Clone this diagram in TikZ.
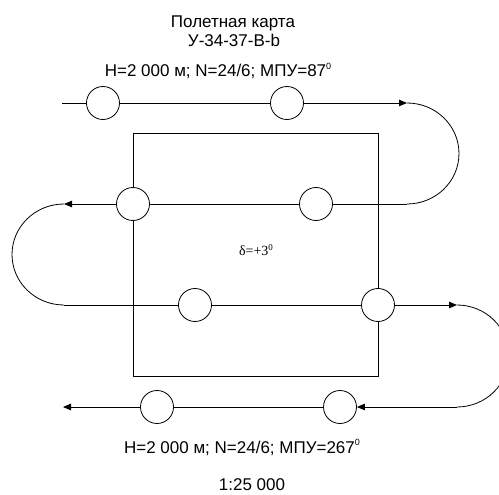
\documentclass[tikz,border=0pt]{standalone}
\usepackage{fontspec}
\setmainfont{Liberation Sans}
\newfontfamily\declfont{Liberation Serif}
\usetikzlibrary{arrows.meta}

\newcommand{\degsup}{\raisebox{0.42em}{\fontsize{9}{9}\selectfont 0}}

\tikzset{
  wpt/.style={circle, draw, line width=0.8pt, fill=white, minimum size=33pt, inner sep=0pt},
  leg/.style={line width=0.8pt},
  legarrow/.style={leg, -{Triangle[length=8pt,width=6.5pt]}},
  lbl/.style={anchor=base, inner sep=0pt, font=\fontsize{17}{20}\selectfont},
}

\begin{document}
\begin{tikzpicture}[x=1pt,y=-1pt]
    \useasboundingbox (0,0) rectangle (499,495);

    % Map sheet
    \draw[line width=0.8pt] (133,133) rectangle (378,376);
    \node[anchor=base, inner sep=0pt, font=\declfont\fontsize{14}{16}\selectfont] (decl) at (256,255) {δ=+3\raisebox{0.35em}{\fontsize{9}{9}\selectfont 0}};

    % Titles
    \node[lbl] (titleA) at (233,28) {Полетная карта};
    \node[lbl] (titleB) at (234,47) {У-34-37-В-b};
    \node[lbl] (paramTop) at (218,77) {H=2 000 м; N=24/6; МПУ=87\degsup};
    \node[lbl] (paramBot) at (242,453) {H=2 000 м; N=24/6; МПУ=267\degsup};
    \node[lbl] (scaleLbl) at (252,490) {1:25 000};

    % Waypoints
    \node[wpt] (c11) at (103,103) {};
    \node[wpt] (c12) at (287,103) {};
    \node[wpt] (c21) at (133,204) {};
    \node[wpt] (c22) at (316,204) {};
    \node[wpt] (c31) at (195,305) {};
    \node[wpt] (c32) at (378,305) {};
    \node[wpt] (c41) at (157,407) {};
    \node[wpt] (c42) at (340,407) {};

    \coordinate (s1) at (62,103);
    \coordinate (e1) at (407,103);
    \coordinate (e2) at (64,204);
    \coordinate (e3) at (457,305);
    \coordinate (e4) at (63,407);

    % First leg
    \draw[leg] (s1) -- (c11);
    \draw[leg] (c11) -- (c12);
    \draw[legarrow] (c12) -- (e1);
    \draw[leg] (e1) arc[start angle=-90, end angle=90, x radius=52, y radius=50.5] coordinate (a1);

    % Second leg
    \draw[leg] (a1) -- (c22);
    \draw[leg] (c22) -- (c21);
    \draw[legarrow] (c21) -- (e2);
    \draw[leg] (e2) arc[start angle=270, end angle=90, x radius=52, y radius=50.5] coordinate (a2);

    % Third leg
    \draw[leg] (a2) -- (c31);
    \draw[leg] (c31) -- (c32);
    \draw[legarrow] (c32) -- (e3);
    \draw[leg] (e3) arc[start angle=-90, end angle=90, x radius=52, y radius=51] coordinate (a3);

    % Fourth leg
    \draw[legarrow] (a3) -- (c42);
    \draw[leg] (c42) -- (c41);
    \draw[legarrow] (c41) -- (e4);
\end{tikzpicture}
\end{document}
